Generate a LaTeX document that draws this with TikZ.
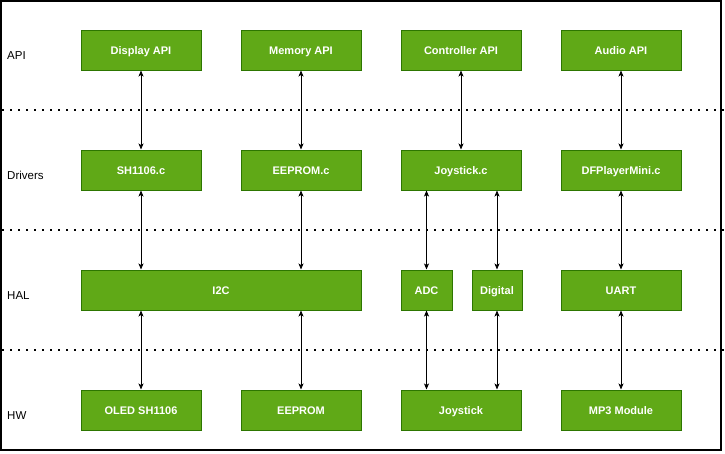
\documentclass[tikz,border=0pt]{standalone}
\usepackage{fontspec}
\setmainfont{Liberation Sans}
\usetikzlibrary{arrows.meta}
\definecolor{boxgreen}{HTML}{60A917}
\definecolor{boxedge}{HTML}{2D7600}

\tikzset{
  block/.style={draw=boxedge, fill=boxgreen, line width=1pt, text=white,
    font=\fontsize{11}{13}\selectfont\bfseries, minimum width=120pt,
    minimum height=40pt, inner sep=0pt, text height=8pt, text depth=0pt},
  layer/.style={font=\fontsize{11.5}{13}\selectfont, anchor=west, inner sep=0pt,
    text height=8pt, text depth=0pt},
  sep/.style={line width=2pt, dash pattern=on 2pt off 6pt},
  link/.style={line width=0.8pt, {Stealth[length=6pt,width=5pt,inset=1.5pt]}-{Stealth[length=6pt,width=5pt,inset=1.5pt]}}
}

\begin{document}
\begin{tikzpicture}[x=1pt,y=-1pt]

\useasboundingbox (0,0) rectangle (725,453);
\draw [line width=1.5pt] (1,1) rectangle (721,450);

\draw [sep] (2,110) -- (725,110);
\draw [sep] (2,230) -- (725,230);
\draw [sep] (2,350) -- (725,350);

\node [layer] (lapi) at (7,55) {API};
\node [layer] (ldrv) at (7,175) {Drivers};
\node [layer] (lhal) at (7,295) {HAL};
\node [layer] (lhw) at (7,415) {HW};

% API
\node [block] (dispapi) at (141,50) {Display API};
\node [block] (memapi) at (301,50) {Memory API};
\node [block] (ctrlapi) at (461,50) {Controller API};
\node [block] (audapi) at (621,50) {Audio API};

% Drivers
\node [block] (sh) at (141,170) {SH1106.c};
\node [block] (eepc) at (301,170) {EEPROM.c};
\node [block] (joyc) at (461,170) {Joystick.c};
\node [block] (dfp) at (621,170) {DFPlayerMini.c};

% HAL
\node [block, minimum width=280pt] (i2c) at (221,290) {I2C};
\node [block, minimum width=51pt] (adc) at (426.5,290) {ADC};
\node [block, minimum width=50pt] (dig) at (497,290) {Digital};
\node [block] (uart) at (621,290) {UART};

% HW
\node [block] (oled) at (141,410) {OLED SH1106};
\node [block] (eep) at (301,410) {EEPROM};
\node [block] (joy) at (461,410) {Joystick};
\node [block] (mp3) at (621,410) {MP3 Module};

\draw [link] (dispapi) -- (sh);
\draw [link] (memapi) -- (eepc);
\draw [link] (ctrlapi) -- (joyc);
\draw [link] (audapi) -- (dfp);

\draw [link] (sh) -- (sh.south |- i2c.north);
\draw [link] (eepc) -- (eepc.south |- i2c.north);
\draw [link] (joyc.south -| adc.north) -- (adc);
\draw [link] (joyc.south -| dig.north) -- (dig);
\draw [link] (dfp) -- (uart);

\draw [link] (i2c.south -| oled.north) -- (oled);
\draw [link] (i2c.south -| eep.north) -- (eep);
\draw [link] (adc.south) -- (adc.south |- joy.north);
\draw [link] (dig.south) -- (dig.south |- joy.north);
\draw [link] (uart) -- (mp3);

\end{tikzpicture}
\end{document}
